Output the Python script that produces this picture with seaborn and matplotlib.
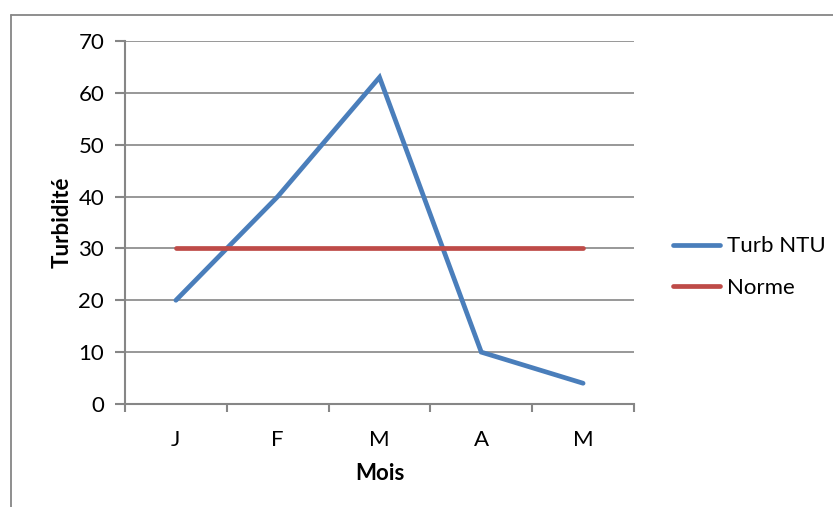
import matplotlib
matplotlib.use("Agg")
import matplotlib.pyplot as plt
import seaborn as sns
import pandas as pd
from matplotlib.lines import Line2D

months = ["J", "F", "M", "A", "M"]
turb = [20, 40, 63, 10, 4]
norme = [30, 30, 30, 30, 30]
yticks = [0, 10, 20, 30, 40, 50, 60, 70]

sns.set_style("white")
plt.rcParams['font.family'] = ['Lato', 'DejaVu Sans']
plt.rcParams['text.color'] = 'black'
plt.rcParams['xtick.labelcolor'] = 'black'
plt.rcParams['ytick.labelcolor'] = 'black'
plt.rcParams['axes.labelcolor'] = 'black'

df = pd.DataFrame({
    "pos": list(range(len(months))) * 2,
    "val": turb + norme,
    "serie": ["Turb NTU"] * len(months) + ["Norme"] * len(months),
})

fig = plt.figure(figsize=(8.33, 5.07), dpi=100)
ax = fig.add_axes([125/833, 1-404/507, (634-125)/833, (404-41)/507])

sns.lineplot(data=df, x="pos", y="val", hue="serie",
             palette={"Turb NTU": "#4A7EBB", "Norme": "#BE4B48"},
             hue_order=["Turb NTU", "Norme"],
             linewidth=3.4, sort=False, ax=ax, legend=False,
             solid_capstyle="round", solid_joinstyle="miter")

fs = 16
gridc = "#868686"
ax.set_ylim(0, 70)
ax.set_xlim(-0.5, len(months) - 0.5)
ax.set_yticks(yticks)
ax.yaxis.grid(True, color=gridc, linewidth=1.2)
ax.set_axisbelow(True)
for s in ["top", "right"]:
    ax.spines[s].set_visible(False)
for s in ["left", "bottom"]:
    ax.spines[s].set_color(gridc)
    ax.spines[s].set_linewidth(1.5)

ax.set_xticks([i - 0.5 for i in range(len(months) + 1)])
ax.set_xticklabels([])
ax.set_xticks(range(len(months)), minor=True)
ax.set_xticklabels(months, minor=True)
ax.tick_params(axis="x", which="major", length=6, width=1.5, color=gridc, direction="out", bottom=True)
ax.tick_params(axis="x", which="minor", length=0, pad=19, labelsize=fs)
ax.tick_params(axis="y", length=7, width=1.5, color=gridc, direction="out", left=True, pad=8, labelsize=fs)

ax.set_xlabel("Mois", fontsize=fs, fontweight="bold", labelpad=9)
ax.set_ylabel("Turbidité", fontsize=fs, fontweight="bold", labelpad=4)

handles = [Line2D([], [], color="#4A7EBB", lw=3.4, solid_capstyle="round"),
           Line2D([], [], color="#BE4B48", lw=3.4, solid_capstyle="round")]
fig.legend(handles, ["Turb NTU", "Norme"], loc="center left",
           bbox_to_anchor=(653/833, 1-267/507), frameon=False, fontsize=fs,
           handlelength=2.1, handletextpad=0.35, labelspacing=0.95)

fig.add_artist(Line2D([11/833, 11/833], [0, 1-15/507], color=gridc, lw=1.3, transform=fig.transFigure))
fig.add_artist(Line2D([11/833, 1], [1-15/507, 1-15/507], color=gridc, lw=1.3, transform=fig.transFigure))

fig.savefig("out.png", dpi=100)
